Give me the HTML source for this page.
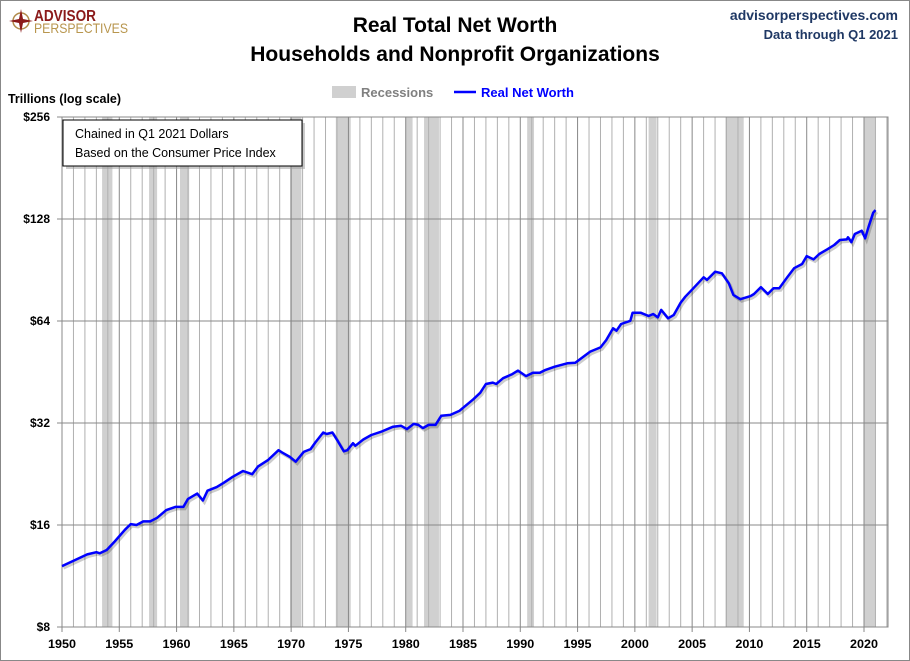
<!DOCTYPE html>
<html><head><meta charset="utf-8"><style>
body{margin:0;background:#fff;}
svg{display:block;font-family:"Liberation Sans",sans-serif;}
</style></head><body>
<svg id="chart" width="910" height="661" viewBox="0 0 910 661">
<rect x="0.5" y="0.5" width="909" height="660" fill="#fff" stroke="#888"/>
<g>
<circle cx="21" cy="21" r="8" fill="none" stroke="#b08a4a" stroke-width="1.5"/>
<polygon points="21,9 23,19 33,21 23,23 21,33 19,23 9,21 19,19" fill="#8b1a1a"/>
<text x="34" y="21" font-size="16" font-weight="bold" fill="#8b1a1a" textLength="62" lengthAdjust="spacingAndGlyphs">ADVISOR</text>
<text x="34" y="33" font-size="14" fill="#b8964e" textLength="94" lengthAdjust="spacingAndGlyphs">PERSPECTIVES</text>
</g>
<text x="455" y="32" text-anchor="middle" font-size="21" font-weight="bold" fill="#000">Real Total Net Worth</text>
<text x="455" y="61" text-anchor="middle" font-size="21" font-weight="bold" fill="#000">Households and Nonprofit Organizations</text>
<text x="898" y="20" text-anchor="end" font-size="14" font-weight="bold" fill="#1f3864">advisorperspectives.com</text>
<text x="898" y="39" text-anchor="end" font-size="13" font-weight="bold" fill="#1f3864">Data through Q1 2021</text>
<g>
<rect x="332" y="86" width="24" height="12" fill="#d0d0d0"/>
<text x="361" y="97" font-size="13" font-weight="bold" fill="#808080">Recessions</text>
<line x1="454" y1="92" x2="476" y2="92" stroke="#0000ff" stroke-width="2.5"/>
<text x="481" y="97" font-size="13" font-weight="bold" fill="#0000ff">Real Net Worth</text>
</g>
<text x="8" y="103" font-size="13" font-weight="bold" fill="#000" textLength="113" lengthAdjust="spacingAndGlyphs">Trillions (log scale)</text>
<g id="plot"></g>
<g>
<rect x="66" y="123" width="239" height="46" fill="#999" opacity="0.5"/>
<rect x="63" y="120" width="239" height="46" fill="#fff" stroke="#000" stroke-width="1"/>
<text x="75" y="138" font-size="12.5" fill="#000">Chained in Q1 2021  Dollars</text>
<text x="75" y="157" font-size="12.5" fill="#000">Based on the Consumer Price Index</text>
</g>
</svg>
<script>
const years=[1950,1952.2,1953,1953.3,1953.9,1954.6,1955.5,1956,1956.5,1957.1,1957.7,1958.3,1959.1,1959.9,1960.6,1961,1961.8,1962.3,1962.7,1963.5,1964.1,1964.9,1965.8,1966.6,1967.1,1968,1968.9,1969.2,1969.9,1970.4,1971.1,1971.7,1972.1,1972.8,1973.1,1973.6,1974.1,1974.6,1974.9,1975.4,1975.6,1976.3,1977,1977.9,1978.9,1979.6,1980.1,1980.7,1981.1,1981.5,1982,1982.6,1983.1,1983.9,1984.7,1985.9,1986.5,1987,1987.6,1987.9,1988.5,1989.3,1989.8,1990.5,1991.1,1991.7,1992.2,1993,1994.1,1994.8,1996.1,1997,1997.5,1998.1,1998.4,1998.8,1999.6,1999.8,2000.5,2001.2,2001.6,2002,2002.3,2002.9,2003.4,2004,2004.4,2005.1,2006,2006.3,2007,2007.6,2008.2,2008.6,2009.2,2010.1,2010.4,2011,2011.6,2012.1,2012.6,2013.3,2013.9,2014.6,2015,2015.6,2016.1,2016.8,2017.4,2017.9,2018.5,2018.6,2018.9,2019.2,2019.8,2020.1,2020.4,2020.8,2021.0];
const netWorth=[12.1,13.1,13.3,13.2,13.5,14.3,15.5,16.1,16.0,16.4,16.4,16.8,17.7,18.1,18.1,19.1,19.8,18.9,20.2,20.7,21.3,22.2,23.1,22.6,23.8,24.9,26.6,26.2,25.4,24.6,26.3,26.8,28.0,30.0,29.7,30.0,28.2,26.4,26.6,27.9,27.4,28.6,29.5,30.2,31.2,31.4,30.7,31.8,31.6,30.9,31.6,31.6,33.6,33.8,34.8,37.6,39.3,41.7,42.1,41.7,43.4,44.6,45.7,44.0,45.0,45.0,45.9,46.9,48.0,48.2,52.0,53.5,56.2,60.9,59.9,62.7,64.1,67.7,67.7,66.2,67.1,65.6,69.0,65.2,66.7,72.5,75.5,79.9,86.1,84.6,89.5,88.5,82.7,76.4,74.2,75.8,76.9,80.5,76.9,79.9,79.9,86.1,91.6,94.3,99.5,97.3,100.9,104.2,107.3,111.0,111.4,113.0,109.3,115.6,118.2,112.3,121.5,133.6,136.0];
const recStart=[1953.5,1957.6,1960.3,1969.9,1973.9,1980.0,1981.6,1990.6,2001.2,2007.9,2020.0];
const recEnd=[1954.4,1958.3,1961.1,1970.9,1975.2,1980.6,1982.9,1991.2,2001.9,2009.5,2021.0];
const yTicks=[8,16,32,64,128,256];
const yTickLabels=["$8","$16","$32","$64","$128","$256"];
const xTicks=[1950,1955,1960,1965,1970,1975,1980,1985,1990,1995,2000,2005,2010,2015,2020];

const L=62,R=888,T=117,B=627;
const X=y=>L+(y-1950)*(864-62)/70;
const Y=v=>B-Math.log2(v/8)*(B-T)/5;
const NS="http://www.w3.org/2000/svg";
const plot=document.getElementById('plot');
function mk(tag,attrs,parent){const e=document.createElementNS(NS,tag);for(const k in attrs)e.setAttribute(k,attrs[k]);(parent||plot).appendChild(e);return e;}
mk('rect',{x:L,y:T,width:R-L,height:B-T,fill:'#fff'});
for(let i=0;i<recStart.length;i++){
  const r=mk('rect',{x:X(recStart[i]),y:T,width:X(recEnd[i])-X(recStart[i]),height:B-T,fill:'#d0d0d0'});
  
  
}
for(let yr=1951;yr<=2022;yr++){
  if(yr%5===0)continue;
  const l=mk('line',{x1:X(yr),x2:X(yr),y1:T,y2:B,stroke:'#b0b0b0','stroke-width':1});
  
  
}
xTicks.forEach(yr=>{
  const l=mk('line',{x1:X(yr),x2:X(yr),y1:T,y2:B+5,stroke:'#888','stroke-width':1});
  
  
  const t=mk('text',{x:X(yr),y:B+21,'text-anchor':'middle','font-size':12,'font-weight':'bold',fill:'#000',textLength:28,lengthAdjust:'spacingAndGlyphs'});
  t.textContent=yr;
  
  
});
yTicks.forEach((v,i)=>{
  const l=mk('line',{x1:L-5,x2:R,y1:Y(v),y2:Y(v),stroke:'#888','stroke-width':1});
  
  
  const t=mk('text',{x:50,y:Y(v)+4,'text-anchor':'end','font-size':12,'font-weight':'bold',fill:'#000'});
  t.textContent=yTickLabels[i];
  
  
});
const ax=mk('rect',{x:L,y:T,width:R-L,height:B-T,fill:'none',stroke:'#888'});


const pts=years.map((y,i)=>X(y).toFixed(1)+','+Y(netWorth[i]).toFixed(1)).join(' ');
const sh=mk('polyline',{points:pts,fill:'none',stroke:'#000',opacity:0.2,'stroke-width':3,transform:'translate(1.5,2)'});


const line=mk('polyline',{points:pts,fill:'none',stroke:'#0000ff','stroke-width':2.5,'stroke-linejoin':'round'});


</script>
</body></html>
